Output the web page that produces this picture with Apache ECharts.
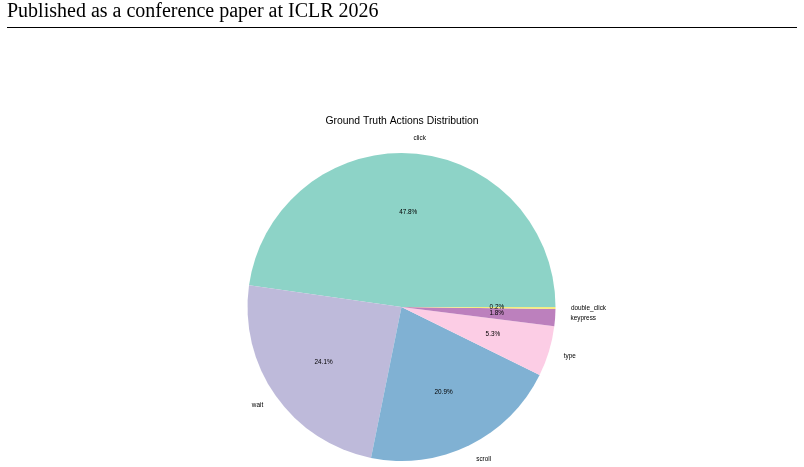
<!DOCTYPE html>
<html>
<head>
<meta charset="utf-8">
<script src="https://cdn.jsdelivr.net/npm/echarts@6/dist/echarts.min.js"></script>
<style>
  html, body { margin: 0; padding: 0; background: #fff; }
  #chart { width: 804px; height: 467px; }
</style>
</head>
<body>
<div id="chart"></div>
<script>
// action names and their share (%), counter-clockwise from 3 o'clock
var actions = ['click', 'wait', 'scroll', 'type', 'keypress', 'double_click'];
var shares = [47.8, 24.1, 20.9, 5.3, 1.8, 0.2];
var colors = ['#8dd3c7', '#bebada', '#80b1d3', '#fccde5', '#bc80bd', '#f5ec80'];

var cx = 401.5, cy = 307, R = 154;
var sans = '"Liberation Sans", Arial, sans-serif';

var data = actions.map(function (name, i) {
    return { name: name, value: shares[i], itemStyle: { color: colors[i] } };
});
var ghost = actions.map(function (name, i) {
    return { name: name, value: shares[i] };
});

var chart = echarts.init(document.getElementById('chart'), null, { renderer: 'canvas' });
chart.setOption({
    animation: false,
    backgroundColor: '#fff',
    title: {
        text: 'Ground Truth Actions Distribution',
        left: 'center',
        top: 111,
        textStyle: { fontFamily: sans, fontSize: 10.4, fontWeight: 'normal', color: '#000' }
    },
    graphic: [
        {
            type: 'text', left: 7, top: 2,
            style: {
                text: 'Published as a conference paper at ICLR 2026',
                font: '20px "Liberation Serif", "Times New Roman", serif',
                fill: '#000'
            }
        },
        {
            type: 'line',
            shape: { x1: 7, y1: 27.5, x2: 797, y2: 27.5 },
            style: { stroke: '#000', lineWidth: 1 }
        }
    ],
    series: [
        {
            type: 'pie',
            center: [cx, cy],
            radius: [0, R],
            startAngle: 0,
            clockwise: false,
            avoidLabelOverlap: false,
            silent: true,
            itemStyle: { borderWidth: 0 },
            label: {
                show: true,
                position: 'outside',
                formatter: '{b}',
                fontFamily: sans,
                fontSize: 6.4,
                color: '#000',
                distanceToLabelLine: 0
            },
            labelLine: { show: false, length: R * 0.1, length2: 0 },
            data: data
        },
        {
            type: 'pie',
            center: [cx, cy],
            radius: [0, R * 1.2],
            startAngle: 0,
            clockwise: false,
            avoidLabelOverlap: false,
            silent: true,
            z: 3,
            itemStyle: { color: 'rgba(0,0,0,0)', borderWidth: 0 },
            label: {
                show: true,
                position: 'inside',
                formatter: function (p) { return p.value.toFixed(1) + '%'; },
                fontFamily: sans,
                fontSize: 6.4,
                color: '#000'
            },
            labelLine: { show: false },
            data: ghost
        }
    ]
});
</script>
</body>
</html>
